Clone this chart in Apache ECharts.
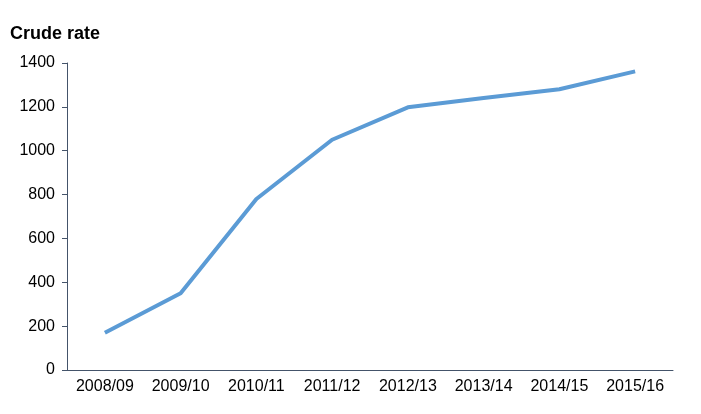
<!DOCTYPE html>
<html><head><meta charset="utf-8">
<script src="https://cdn.jsdelivr.net/npm/echarts@6/dist/echarts.min.js"></script>
<style>html,body{margin:0;padding:0;background:#fff}#c{width:701px;height:414px}</style>
</head><body><div id="c"></div>
<script>
const categories = ['2008/09','2009/10','2010/11','2011/12','2012/13','2013/14','2014/15','2015/16'];
const crudeRate = [170, 350, 780, 1050, 1198, 1240, 1280, 1362];
const yTicks = { min: 0, max: 1400, interval: 200 };
const chart = echarts.init(document.getElementById('c'), null, {renderer:'canvas'});
chart.setOption({
  animation: false,
  textStyle: { fontFamily: 'Liberation Sans, Arial, sans-serif' },
  title: { text: 'Crude rate', left: 5, top: 20, textStyle: { fontSize: 18, fontWeight: 'bold', color: '#000', fontFamily: 'Liberation Sans, Arial, sans-serif' } },
  grid: { left: 67, right: 28, top: 63, bottom: 44, containLabel: false },
  xAxis: {
    type: 'category', data: categories, boundaryGap: true,
    axisLine: { lineStyle: { color: '#44546a', width: 1 } },
    axisTick: { show: false },
    axisLabel: { color: '#000', fontSize: 16, margin: 9 }
  },
  yAxis: {
    type: 'value', min: yTicks.min, max: yTicks.max, interval: yTicks.interval,
    axisLine: { show: true, lineStyle: { color: '#44546a', width: 1 } },
    axisTick: { show: true, length: 5, lineStyle: { color: '#44546a' } },
    splitLine: { show: false },
    axisLabel: { color: '#000', fontSize: 16, margin: 12, formatter: v => String(v) }
  },
  series: [{
    type: 'line', data: crudeRate, symbol: 'none',
    lineStyle: { color: '#5b9bd5', width: 4 }
  }]
});
</script></body></html>
